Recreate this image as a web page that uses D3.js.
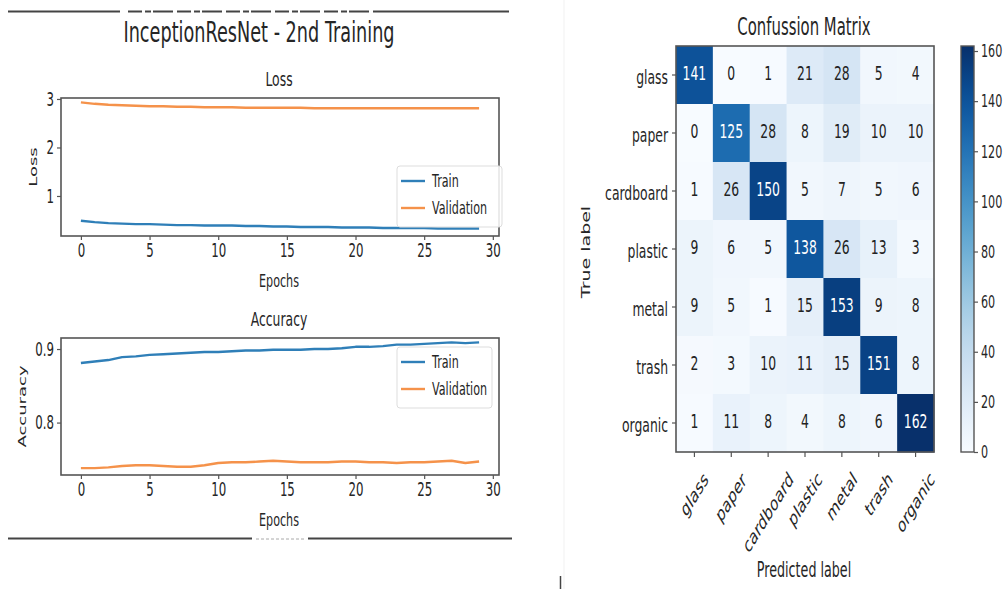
<!DOCTYPE html>
<html>
<head>
<meta charset="utf-8">
<script src="https://cdn.jsdelivr.net/npm/d3@7/dist/d3.min.js"></script>
<style>
  html, body { margin: 0; padding: 0; background: #fff; }
  svg { display: block; font-family: "DejaVu Sans", sans-serif; }
</style>
</head>
<body>
<svg id="chart" width="1003" height="589"></svg>
<script>
// ---------------- DATA ----------------
const epochs = d3.range(0, 30);
const lossTrain = [0.49, 0.46, 0.44, 0.43, 0.42, 0.42, 0.41, 0.40, 0.40, 0.39, 0.39, 0.39, 0.38, 0.38, 0.37,
                   0.37, 0.36, 0.36, 0.36, 0.35, 0.35, 0.35, 0.34, 0.34, 0.34, 0.34, 0.33, 0.33, 0.33, 0.33];
const lossVal   = [2.93, 2.90, 2.88, 2.87, 2.86, 2.85, 2.85, 2.84, 2.84, 2.83, 2.83, 2.83, 2.82, 2.82, 2.82,
                   2.82, 2.82, 2.81, 2.81, 2.81, 2.81, 2.81, 2.81, 2.81, 2.81, 2.81, 2.81, 2.81, 2.81, 2.81];
const accTrain  = [0.881, 0.883, 0.885, 0.889, 0.890, 0.892, 0.893, 0.894, 0.895, 0.896, 0.896, 0.897, 0.898, 0.898, 0.899,
                   0.899, 0.899, 0.900, 0.900, 0.901, 0.903, 0.903, 0.904, 0.906, 0.906, 0.907, 0.908, 0.909, 0.908, 0.909];
const accVal    = [0.738, 0.738, 0.739, 0.741, 0.742, 0.742, 0.741, 0.740, 0.740, 0.742, 0.745, 0.746, 0.746, 0.747, 0.748,
                   0.747, 0.746, 0.746, 0.746, 0.747, 0.747, 0.746, 0.746, 0.745, 0.746, 0.746, 0.747, 0.748, 0.745, 0.747];
const epochTicks = [0, 5, 10, 15, 20, 25, 30];
const lossTicks = [1, 2, 3];
const accTicks = [0.8, 0.9];
const seriesNames = ["Train", "Validation"];

const classes = ["glass", "paper", "cardboard", "plastic", "metal", "trash", "organic"];
const confusion = [
  [141, 0, 1, 21, 28, 5, 4],
  [0, 125, 28, 8, 19, 10, 10],
  [1, 26, 150, 5, 7, 5, 6],
  [9, 6, 5, 138, 26, 13, 3],
  [9, 5, 1, 15, 153, 9, 8],
  [2, 3, 10, 11, 15, 151, 8],
  [1, 11, 8, 4, 8, 6, 162]
];
const colorbarTicks = [0, 20, 40, 60, 80, 100, 120, 140, 160];

// ---------------- HELPERS ----------------
const SX = 0.62;           // horizontal squish of the original picture
const svg = d3.select("#chart");
const TXT = "#262626";
const FRAME = "#555";
const BLUE = "#2f7fb8", ORANGE = "#f5924a";

function txt(g, x, y, s, o = {}) {
  const t = g.append("text")
    .attr("transform", `translate(${x},${y}) scale(${SX},1)` + (o.rotate ? ` rotate(${o.rotate})` : ""))
    .attr("font-size", o.size || 18)
    .attr("text-anchor", o.anchor || "middle")
    .attr("fill", o.fill || TXT)
    .text(s);
  if (o.baseline) t.attr("dominant-baseline", o.baseline);
  return t;
}

function squishAxisText(sel, size) {
  sel.selectAll(".tick text").each(function () {
    const t = d3.select(this);
    const x = +t.attr("x") || 0;
    t.attr("x", x / SX).attr("transform", `scale(${SX},1)`)
     .attr("font-size", size).attr("fill", TXT).attr("font-family", "DejaVu Sans");
  });
  sel.selectAll(".tick line").attr("stroke", FRAME).attr("stroke-width", 1.2);
  sel.select(".domain").remove();
}

// ---------------- SEPARATOR LINES ----------------
const deco = svg.append("g").attr("stroke", "#444").attr("stroke-width", 2.2);
[[8, 120], [375, 509]].forEach(([a, b]) => deco.append("line").attr("x1", a).attr("x2", b).attr("y1", 11.5).attr("y2", 11.5));
deco.append("line").attr("x1", 128).attr("x2", 375).attr("y1", 11.5).attr("y2", 11.5).attr("stroke-dasharray", "14 3 6 2 20 4");
[[8, 252], [308, 512]].forEach(([a, b]) => deco.append("line").attr("x1", a).attr("x2", b).attr("y1", 538.5).attr("y2", 538.5));
deco.append("line").attr("x1", 256).attr("x2", 305).attr("y1", 539).attr("y2", 539).attr("stroke-width", 1).attr("stroke", "#aaa").attr("stroke-dasharray", "3 2");
svg.append("line").attr("x1", 564).attr("x2", 564).attr("y1", 0).attr("y2", 589).attr("stroke", "#f1f1f1").attr("stroke-width", 1);
svg.append("line").attr("x1", 560.5).attr("x2", 560.5).attr("y1", 576).attr("y2", 589).attr("stroke", "#444").attr("stroke-width", 1.5);

// ---------------- LEFT: TRAINING CURVES ----------------
txt(svg, 259, 42, "InceptionResNet - 2nd Training", { size: 28.5 });

const x = d3.scaleLinear().domain([-1.45, 30.45]).range([61, 499]);

function panel(cfg) {
  const g = svg.append("g");
  const y = d3.scaleLinear().domain(cfg.yDomain).range([cfg.bottom, cfg.top]);
  txt(g, 279, cfg.top - 12, cfg.title, { size: 20 });

  const line = d3.line().x((d, i) => x(epochs[i])).y(d => y(d));
  g.append("path").datum(cfg.train).attr("d", line).attr("fill", "none")
    .attr("stroke", BLUE).attr("stroke-width", 2.4).attr("stroke-linejoin", "round");
  g.append("path").datum(cfg.val).attr("d", line).attr("fill", "none")
    .attr("stroke", ORANGE).attr("stroke-width", 2.4).attr("stroke-linejoin", "round");

  g.append("rect").attr("x", 61).attr("y", cfg.top).attr("width", 438).attr("height", cfg.bottom - cfg.top)
    .attr("fill", "none").attr("stroke", FRAME).attr("stroke-width", 1.6);

  const xa = g.append("g").attr("transform", `translate(0,${cfg.bottom})`)
    .call(d3.axisBottom(x).tickValues(epochTicks).tickSize(4).tickPadding(4));
  squishAxisText(xa, 19);
  const ya = g.append("g").attr("transform", `translate(61,0)`)
    .call(d3.axisLeft(y).tickValues(cfg.yTicks).tickSize(4).tickPadding(3).tickFormat(cfg.fmt));
  squishAxisText(ya, 19);

  txt(g, 279, cfg.bottom + 51, "Epochs", { size: 18 });
  txt(g, cfg.yLabelX, (cfg.top + cfg.bottom) / 2, cfg.yLabel, { size: 18, rotate: -90 });

  // legend
  const L = cfg.legend;
  g.append("rect").attr("x", L.x).attr("y", L.y).attr("width", L.w).attr("height", 61).attr("rx", 3)
    .attr("fill", "#fff").attr("fill-opacity", 0.85).attr("stroke", "#ddd").attr("stroke-width", 1);
  seriesNames.forEach((n, i) => {
    const yy = L.y + 15 + i * 27;
    g.append("line").attr("x1", L.x + 4).attr("x2", L.x + 28).attr("y1", yy).attr("y2", yy)
      .attr("stroke", i === 0 ? BLUE : ORANGE).attr("stroke-width", 2.4);
    txt(g, L.x + 35, yy + 6, n, { size: 18, anchor: "start" });
  });
}

panel({ title: "Loss", top: 98, bottom: 236, yDomain: [0.175, 3.02], yTicks: lossTicks, fmt: d3.format("d"),
        train: lossTrain, val: lossVal, yLabel: "Loss", yLabelX: 37, legend: { x: 397, y: 166, w: 105 } });
panel({ title: "Accuracy", top: 338, bottom: 475, yDomain: [0.7287, 0.915], yTicks: accTicks, fmt: d3.format(".1f"),
        train: accTrain, val: accVal, yLabel: "Accuracy", yLabelX: 26, legend: { x: 397, y: 347, w: 95 } });

// ---------------- RIGHT: CONFUSION MATRIX ----------------
const cm = svg.append("g");
const MX0 = 676, MX1 = 934, MY0 = 46, MY1 = 452;
const vmax = d3.max(confusion.flat());
const cx = d3.scaleBand().domain(classes).range([MX0, MX1]);
const cy = d3.scaleBand().domain(classes).range([MY0, MY1]);
const color = d3.scaleSequential(d3.interpolateBlues).domain([0, vmax]);

const cells = [];
confusion.forEach((row, i) => row.forEach((v, j) => cells.push({ r: classes[i], c: classes[j], v })));

cm.selectAll("rect.cell").data(cells).join("rect").attr("class", "cell")
  .attr("x", d => cx(d.c)).attr("y", d => cy(d.r))
  .attr("width", cx.bandwidth() + 0.5).attr("height", cy.bandwidth() + 0.5)
  .attr("fill", d => color(d.v));

cells.forEach(d => {
  txt(cm, cx(d.c) + cx.bandwidth() / 2, cy(d.r) + cy.bandwidth() / 2 - 2, d.v,
      { size: 20, baseline: "central", fill: d.v > vmax / 2 ? "#fff" : "#222" });
});

cm.append("rect").attr("x", MX0).attr("y", MY0).attr("width", MX1 - MX0).attr("height", MY1 - MY0)
  .attr("fill", "none").attr("stroke", FRAME).attr("stroke-width", 1.6);

const yAx = cm.append("g").attr("transform", `translate(${MX0},0)`)
  .call(d3.axisLeft(cy).tickSize(4).tickPadding(4));
squishAxisText(yAx, 20);
yAx.selectAll(".tick text").attr("dy", "0.45em");

const xAx = cm.append("g").attr("transform", `translate(0,${MY1})`)
  .call(d3.axisBottom(cx).tickSize(5).tickFormat(""));
squishAxisText(xAx, 20);

// rotated x labels: bbox centred on tick, top at y = 467
const svgRect = document.getElementById("chart").getBoundingClientRect();
classes.forEach(c => {
  const xc = cx(c) + cx.bandwidth() / 2;
  const t = txt(cm, xc, 0, c, { size: 20.5, rotate: -45, baseline: "central" });
  const r = t.node().getBoundingClientRect();
  const top = r.top - svgRect.top;
  const midX = (r.left + r.right) / 2 - svgRect.left;
  t.attr("transform", `translate(${xc + (xc - midX)},${467 - top}) scale(${SX},1) rotate(-45)`);
});

txt(svg, 804, 35, "Confussion Matrix", { size: 24 });
txt(svg, 804, 577, "Predicted label", { size: 20.5 });
txt(svg, 590, 252, "True label", { size: 19, rotate: -90 });

// ---------------- COLORBAR ----------------
const cbScale = d3.scaleLinear().domain([0, vmax]).range([MY1, MY0]);
const defs = svg.append("defs");
const grad = defs.append("linearGradient").attr("id", "cbgrad").attr("x1", 0).attr("x2", 0).attr("y1", 1).attr("y2", 0);
d3.range(0, 1.0001, 0.05).forEach(t => grad.append("stop").attr("offset", t).attr("stop-color", color(t * vmax)));
svg.append("rect").attr("x", 961).attr("y", MY0).attr("width", 13).attr("height", MY1 - MY0)
  .attr("fill", "url(#cbgrad)").attr("stroke", FRAME).attr("stroke-width", 1.4);
const cbAx = svg.append("g").attr("transform", "translate(974,0)")
  .call(d3.axisRight(cbScale).tickValues(colorbarTicks).tickSize(4).tickPadding(3));
squishAxisText(cbAx, 18);
</script>
</body>
</html>
